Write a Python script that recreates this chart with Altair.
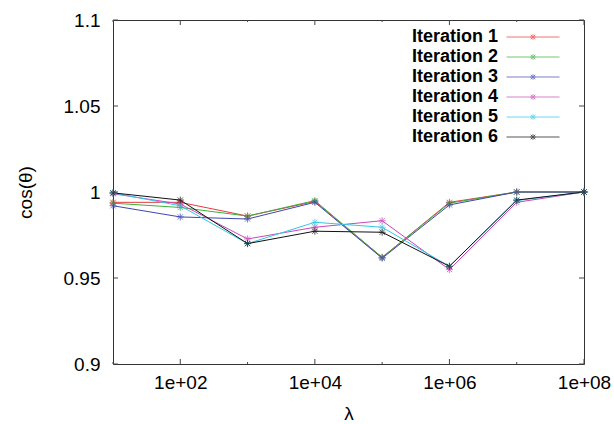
import altair as alt
import pandas as pd

# penalty weights (log-spaced) and the cosine similarity reached per iteration
lambdas = [1e1, 1e2, 1e3, 1e4, 1e5, 1e6, 1e7, 1e8]
iter1 = [0.994, 0.994, 0.986, 0.9945, 0.962, 0.994, 1.0, 1.0]
iter2 = [0.9935, 0.991, 0.986, 0.995, 0.962, 0.9935, 1.0, 1.0]
iter3 = [0.992, 0.9855, 0.9843, 0.994, 0.9615, 0.9925, 1.0, 1.0]
iter4 = [0.999, 0.993, 0.9727, 0.9795, 0.9833, 0.9549, 0.994, 1.0]
iter5 = [0.9995, 0.992, 0.970, 0.9824, 0.9795, 0.9568, 0.995, 1.0]
iter6 = [0.9995, 0.9953, 0.970, 0.9772, 0.9766, 0.9568, 0.9953, 1.0]

series_names = ["Iteration 1", "Iteration 2", "Iteration 3",
                "Iteration 4", "Iteration 5", "Iteration 6"]
series_values = [iter1, iter2, iter3, iter4, iter5, iter6]
series_colors = ["#e8383c", "#3cb03c", "#3c48b0", "#c848b8", "#30c8e8", "#111111"]

y_ticks = [0.9, 0.95, 1.0, 1.05, 1.1]
x_major = [1e2, 1e4, 1e6, 1e8]
x_minor = [1e1, 1e3, 1e5, 1e7]

W, H = 471, 344
FONT = "Liberation Sans"

rows = []
for name, vals in zip(series_names, series_values):
    for lam, v in zip(lambdas, vals):
        rows.append({"lambda": lam, "cos": v, "series": name})
df = pd.DataFrame(rows)

xscale = alt.Scale(type="log", domain=[1e1, 1e8], nice=False)
yscale = alt.Scale(domain=[0.9, 1.1], nice=False, zero=False)

asterisk = "M-1,0L1,0M0,-1L0,1M-0.75,-0.75L0.75,0.75M-0.75,0.75L0.75,-0.75"
legend_symbol = ("M-5.3,0L5.3,0M-0.55,0L0.55,0M0,-0.55L0,0.55"
                 "M-0.45,-0.45L0.45,0.45M-0.45,0.45L0.45,-0.45")

color = alt.Color(
    "series:N",
    scale=alt.Scale(domain=series_names, range=series_colors),
    legend=alt.Legend(
        title=None, orient="none", legendX=W - 60, legendY=8,
        symbolType=legend_symbol, symbolSize=100, symbolStrokeWidth=1,
        labelAlign="right", labelOffset={"expr": "-44"}, labelFont=FONT,
        labelFontSize=18, labelFontWeight="bold", labelColor="#000000",
        rowPadding=2,
    ),
)

x_enc = alt.X(
    "lambda:Q", scale=xscale,
    axis=alt.Axis(
        values=x_major, labelExpr="'1e+0' + round(log(datum.value) / LN10)",
        ticks=False, domain=False, grid=False, labelFlush=False, labelFont=FONT,
        labelFontSize=19, labelColor="#000000", labelPadding=9,
        title="λ", titleFont=FONT, titleFontSize=19, titleFontWeight="normal",
        titleColor="#000000", titleY=49, titleBaseline="middle",
    ),
)
y_enc = alt.Y(
    "cos:Q", scale=yscale,
    axis=alt.Axis(
        values=y_ticks, format="~g", ticks=False, domain=False, grid=False,
        labelFlush=False, labelFont=FONT, labelFontSize=19,
        labelColor="#000000", labelPadding=13,
        title="cos(θ)", titleFont=FONT, titleFontSize=19,
        titleFontWeight="normal", titleColor="#000000",
        titleX=-88, titleY=H / 2, titleBaseline="middle", titleAngle=-90,
    ),
)

base = alt.Chart(df)
lines = base.mark_line(strokeWidth=1).encode(x=x_enc, y=y_enc, color=color)
points = base.mark_point(shape=asterisk, size=49, filled=False, strokeWidth=1).encode(
    x=alt.X("lambda:Q", scale=xscale), y=alt.Y("cos:Q", scale=yscale), color=color
)

# inward tick marks on all four sides of the frame
tick_color = "#444444"
ydf = pd.DataFrame({"cos": y_ticks})
xmaj = pd.DataFrame({"lambda": x_major})
xmin = pd.DataFrame({"lambda": x_minor})
y_t = alt.Y("cos:Q", scale=yscale)
x_t = alt.X("lambda:Q", scale=xscale)

left_ticks = alt.Chart(ydf).mark_rule(color=tick_color).encode(
    y=y_t, x=alt.value(0), x2=alt.value(5))
right_ticks = alt.Chart(ydf).mark_rule(color=tick_color).encode(
    y=y_t, x=alt.value(W - 5), x2=alt.value(W))
bottom_major = alt.Chart(xmaj).mark_rule(color=tick_color).encode(
    x=x_t, y=alt.value(H - 5), y2=alt.value(H))
top_major = alt.Chart(xmaj).mark_rule(color=tick_color).encode(
    x=x_t, y=alt.value(0), y2=alt.value(5))
bottom_minor = alt.Chart(xmin).mark_rule(color=tick_color).encode(
    x=x_t, y=alt.value(H - 2), y2=alt.value(H))
top_minor = alt.Chart(xmin).mark_rule(color=tick_color).encode(
    x=x_t, y=alt.value(0), y2=alt.value(2))

chart = alt.layer(
    lines, points,
    left_ticks, right_ticks, bottom_major, top_major, bottom_minor, top_minor,
).properties(
    width=W, height=H,
    autosize=alt.AutoSizeParams(type="none"),
    padding={"left": 113, "top": 20, "right": 30, "bottom": 60},
    background="#ffffff",
).configure_view(
    stroke="#333333", strokeWidth=1,
)

chart.save("out.html", embed_options={"renderer": "svg", "actions": False})
